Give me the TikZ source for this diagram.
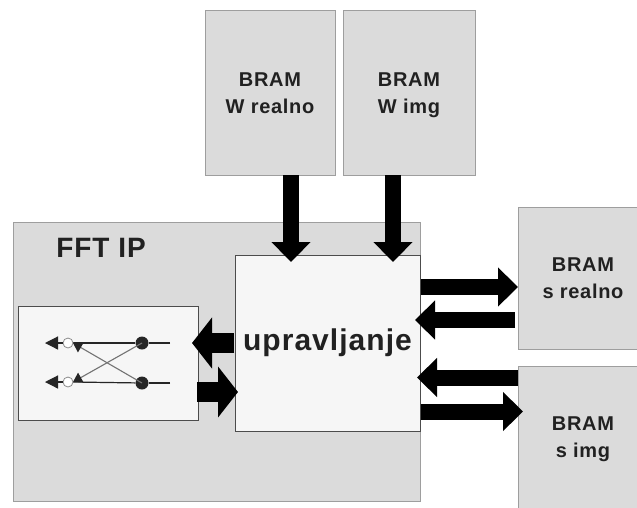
\documentclass[tikz,border=0pt]{standalone}
\usepackage{fontspec}
\setmainfont[LetterSpace=3.5]{Liberation Sans}
\usetikzlibrary{arrows.meta, positioning}
\definecolor{boxgray}{gray}{0.86}
\definecolor{boxwhite}{gray}{0.965}
\definecolor{boxline}{gray}{0.62}
\definecolor{labelgray}{gray}{0.13}
\newcommand{\bramlabel}[1]{\rule{0pt}{23pt}BRAM\\#1\strut}
\tikzset{bram/.style={draw=boxline, line width=1pt, fill=boxgray, text=labelgray, align=center, inner sep=0pt,
    font=\fontsize{20}{27}\selectfont\bfseries}}
\tikzset{inner/.style={draw=black!70, line width=1pt, fill=boxwhite, inner sep=0pt}}
\tikzset{bus/.style={line width=16pt, -{Triangle[length=20pt,width=38pt]}, black}}
\tikzset{fatbus/.style={line width=20pt, -{Triangle[length=20pt,width=50pt]}, black}}
\tikzset{wire/.style={line width=1.2pt, black!85}}
\tikzset{cross/.style={line width=1.1pt, black!55, -{Triangle[length=9pt,width=11pt,color=black!85]}}}
\begin{document}
\begin{tikzpicture}[x=1pt, y=-1pt]
  \clip (0,0) rectangle (637,507);
  \fill[white] (0,0) rectangle (637,507);
  \node(wr) [bram, minimum width=130pt, minimum height=165pt] at (270,92.5) {\bramlabel{W realno}};
  \node(wi) [bram, minimum width=132pt, minimum height=165pt] at (409,92.5) {\bramlabel{W img}};
  \node(ip) [bram, minimum width=407pt, minimum height=279pt] at (216.5,361.5) {};
  \node(title) [text=labelgray, font=\fontsize{28}{28}\selectfont\bfseries] at (101,248) {FFT IP};
  \node(up) [inner, minimum width=185pt, minimum height=176pt, text=labelgray,
    font=\fontsize{30}{30}\selectfont\bfseries] at (327.5,343) {upravljanje};
  \node(bf) [inner, minimum width=180pt, minimum height=114pt] at (108,363) {};
  \node(sr) [bram, minimum width=130pt, minimum height=142pt] at (583,278) {\bramlabel{s realno}};
  \node(si) [bram, minimum width=130pt, minimum height=142pt] at (583,437) {\bramlabel{s img}};
  % free ends of the buses
  \coordinate(wrin) at (291,262);
  \coordinate(wiin) at (393,262);
  \coordinate(wrout) at (291,175);
  \coordinate(wiout) at (393,175);
  \coordinate(upr1) at (421,287);
  \coordinate(srin) at (518,287);
  \coordinate(srout) at (515,320);
  \coordinate(upl1) at (415,320);
  \coordinate(siout) at (518,377.5);
  \coordinate(upl2) at (417,377.5);
  \coordinate(upr2) at (421,411.5);
  \coordinate(siin) at (523,411.5);
  \coordinate(upl3) at (234,343);
  \coordinate(bfin) at (192,343);
  \coordinate(bfout) at (197,392);
  \coordinate(upl4) at (238,392);
  \draw[bus] (wrout) -- (wrin);
  \draw[bus] (wiout) -- (wiin);
  \draw[bus] (upr1) -- (srin);
  \draw[bus] (srout) -- (upl1);
  \draw[bus] (siout) -- (upl2);
  \draw[bus] (upr2) -- (siin);
  \draw[fatbus] (upl3) -- (bfin);
  \draw[fatbus] (bfout) -- (upl4);
  % butterfly
  \coordinate(e1) at (170,343);
  \coordinate(e2) at (170,383);
  \coordinate(a1) at (45,343);
  \coordinate(a2) at (45,382);
  \coordinate(t1) at (73,343);
  \coordinate(t2) at (73,382);
  \node(d1) [circle, fill=black!85, minimum size=13pt, inner sep=0pt] at (142,343) {};
  \node(d2) [circle, fill=black!85, minimum size=13pt, inner sep=0pt] at (142,383) {};
  \draw[wire] (e1) -- (d1);
  \draw[wire] (e2) -- (d2);
  \draw[wire] (d1) -- (t1);
  \draw[wire] (d2) -- (t2);
  \draw[cross] (d2.center) -- (t1);
  \draw[cross] (d1.center) -- (t2);
  \node(o1) [circle, draw=black!45, fill=white, line width=0.8pt, minimum size=10pt, inner sep=0pt] at (68,343) {};
  \node(o2) [circle, draw=black!45, fill=white, line width=0.8pt, minimum size=10pt, inner sep=0pt] at (68,382) {};
  \draw[wire, -{Triangle[length=13pt,width=13pt]}] (o1) -- (a1);
  \draw[wire, -{Triangle[length=13pt,width=13pt]}] (o2) -- (a2);
\end{tikzpicture}
\end{document}
